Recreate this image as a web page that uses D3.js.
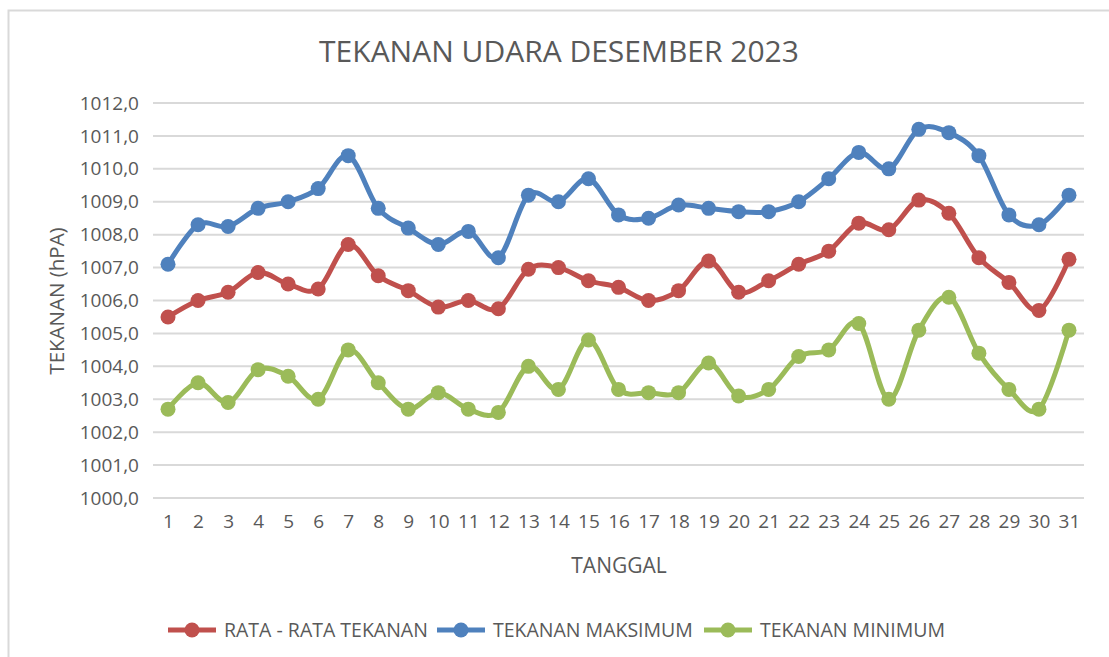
<!DOCTYPE html>
<html>
<head>
    <title>Tekanan Udara Desember 2023</title>
    <script src="https://d3js.org/d3.v7.min.js"></script>
    <style>
        body { margin: 0; background: #fff; }
        text { font-family: "Open Sans", sans-serif; fill: #595959; }
    </style>
</head>
<body>
    <div id="chart"></div>
    <script>
    // data
    let days = d3.range(1, 32);
    let rataRata = [1005.5, 1006.0, 1006.25, 1006.85, 1006.5, 1006.35, 1007.7, 1006.75, 1006.3, 1005.8,
        1006.0, 1005.75, 1006.95, 1007.0, 1006.6, 1006.4, 1006.0, 1006.3, 1007.2, 1006.25,
        1006.6, 1007.1, 1007.5, 1008.35, 1008.15, 1009.05, 1008.65, 1007.3, 1006.55, 1005.7, 1007.25];
    let maksimum = [1007.1, 1008.3, 1008.25, 1008.8, 1009.0, 1009.4, 1010.4, 1008.8, 1008.2, 1007.7,
        1008.1, 1007.3, 1009.2, 1009.0, 1009.7, 1008.6, 1008.5, 1008.9, 1008.8, 1008.7,
        1008.7, 1009.0, 1009.7, 1010.5, 1010.0, 1011.2, 1011.1, 1010.4, 1008.6, 1008.3, 1009.2];
    let minimum = [1002.7, 1003.5, 1002.9, 1003.9, 1003.7, 1003.0, 1004.5, 1003.5, 1002.7, 1003.2,
        1002.7, 1002.6, 1004.0, 1003.3, 1004.8, 1003.3, 1003.2, 1003.2, 1004.1, 1003.1,
        1003.3, 1004.3, 1004.5, 1005.3, 1003.0, 1005.1, 1006.1, 1004.4, 1003.3, 1002.7, 1005.1];
    let yTicks = d3.range(1000, 1012.5, 1);

    let series = [
        {name: "RATA - RATA TEKANAN", values: rataRata, color: "#C0504D"},
        {name: "TEKANAN MAKSIMUM", values: maksimum, color: "#4F81BD"},
        {name: "TEKANAN MINIMUM", values: minimum, color: "#9BBB59"}
    ];

    let width = 1109,
        height = 657;

    let svg = d3.select("#chart")
        .append("svg")
        .attr("width", width)
        .attr("height", height);

    // chart border
    svg.append("rect")
        .attr("x", 8.5).attr("y", 10.5)
        .attr("width", 1200).attr("height", 700)
        .attr("fill", "none")
        .attr("stroke", "#d9d9d9")
        .attr("stroke-width", 2);

    let x = d3.scalePoint()
        .domain(days)
        .range([153, 1084])
        .padding(0.5);

    let y = d3.scaleLinear()
        .domain([1000, 1012])
        .range([498, 103]);

    let locale = d3.formatLocale({decimal: ",", thousands: ".", grouping: [3], currency: ["", ""]});
    let fmt = locale.format(".1f");

    // gridlines
    svg.append("g")
        .selectAll("line")
        .data(yTicks)
        .enter()
        .append("line")
        .attr("x1", 153).attr("x2", 1084)
        .attr("y1", d => y(d)).attr("y2", d => y(d))
        .attr("stroke", "#d9d9d9")
        .attr("stroke-width", 2);

    // y axis labels
    let yAxis = svg.append("g")
        .attr("transform", "translate(139,0)")
        .call(d3.axisLeft(y).tickValues(yTicks).tickFormat(fmt).tickSize(0).tickPadding(0));
    yAxis.select(".domain").remove();
    yAxis.selectAll("text")
        .style("font-family", "'Open Sans', sans-serif")
        .style("font-size", "19px")
        .attr("fill", "#595959");

    // x axis labels
    let xAxis = svg.append("g")
        .attr("transform", "translate(0,514)")
        .call(d3.axisBottom(x).tickSize(0).tickPadding(0));
    xAxis.select(".domain").remove();
    xAxis.selectAll("text")
        .style("font-family", "'Open Sans', sans-serif")
        .style("font-size", "19px")
        .attr("fill", "#595959");

    // title and axis titles
    svg.append("text")
        .attr("x", 559).attr("y", 62)
        .attr("text-anchor", "middle")
        .style("font-size", "30px")
        .text("TEKANAN UDARA DESEMBER 2023");

    svg.append("text")
        .attr("transform", "translate(64,301) rotate(-90)")
        .attr("text-anchor", "middle")
        .style("font-size", "20.5px")
        .text("TEKANAN (hPA)");

    svg.append("text")
        .attr("x", 619).attr("y", 573)
        .attr("text-anchor", "middle")
        .style("font-size", "21px")
        .text("TANGGAL");

    // lines
    let line = d3.line()
        .x((d, i) => x(days[i]))
        .y(d => y(d))
        .curve(d3.curveCardinal.tension(0));

    series.forEach(function(s) {
        let g = svg.append("g");
        g.append("path")
            .datum(s.values)
            .attr("d", line)
            .attr("fill", "none")
            .attr("stroke", s.color)
            .attr("stroke-width", 5)
            .attr("stroke-linejoin", "round");
        g.selectAll("circle")
            .data(s.values)
            .enter()
            .append("circle")
            .attr("cx", (d, i) => x(days[i]))
            .attr("cy", d => y(d))
            .attr("r", 7.5)
            .attr("fill", s.color);
    });

    // legend
    let legendX = [168, 437, 704];
    let legend = svg.append("g");
    series.forEach(function(s, i) {
        let lg = legend.append("g").attr("transform", `translate(${legendX[i]},630)`);
        lg.append("line")
            .attr("x1", 0).attr("x2", 48)
            .attr("stroke", s.color)
            .attr("stroke-width", 5);
        lg.append("circle")
            .attr("cx", 24).attr("r", 7.5)
            .attr("fill", s.color);
        lg.append("text")
            .attr("x", 56).attr("y", 7)
            .style("font-size", "19.5px")
            .text(s.name);
    });
    </script>
</body>
</html>
